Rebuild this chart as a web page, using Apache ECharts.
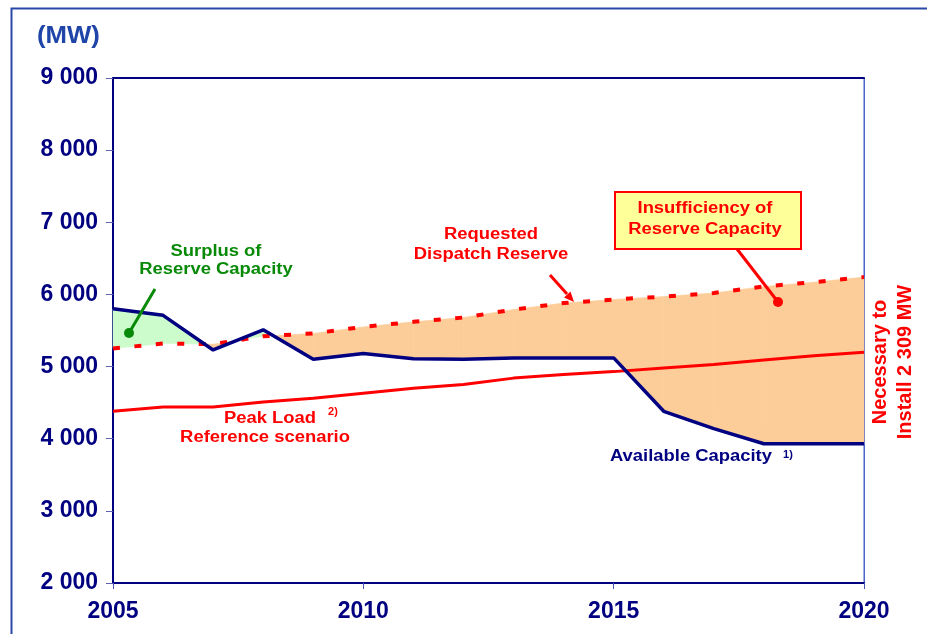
<!DOCTYPE html>
<html>
<head>
<meta charset="utf-8">
<script src="https://cdn.jsdelivr.net/npm/echarts@6/dist/echarts.min.js"></script>
<style>
  html, body { margin: 0; padding: 0; background: #fff; }
  #chart { width: 927px; height: 634px; }
</style>
</head>
<body>
<div id="chart"></div>
<script>
var years = [2005, 2006, 2007, 2008, 2009, 2010, 2011, 2012, 2013, 2014, 2015, 2016, 2017, 2018, 2019, 2020];
// Available Capacity 1)
var available = [5800, 5710, 5230, 5510, 5100, 5180, 5110, 5100, 5120, 5120, 5120, 4380, 4140, 3930, 3930, 3930];
// Peak Load 2) reference scenario
var peakLoad = [4380, 4440, 4440, 4510, 4560, 4630, 4700, 4750, 4840, 4890, 4930, 4980, 5030, 5090, 5150, 5200];
// Requested Dispatch Reserve
var reserve = [5250, 5320, 5310, 5420, 5460, 5550, 5620, 5680, 5790, 5880, 5930, 5970, 6020, 6110, 6170, 6240];
var xTicks = [2005, 2010, 2015, 2020];

var NAVY = '#000080';
var RED = '#ff0000';
var FONT = '"Liberation Sans", Arial, sans-serif';

var chart = echarts.init(document.getElementById('chart'));

function toPairs(arr) {
  return years.map(function (y, i) { return [y, arr[i]]; });
}

// fill between available and requested reserve, green where surplus, orange where short
function renderGap(params, api) {
  var i = params.dataIndex;
  var a0 = api.coord([years[i], available[i]]);
  var a1 = api.coord([years[i + 1], available[i + 1]]);
  var r0 = api.coord([years[i], reserve[i]]);
  var r1 = api.coord([years[i + 1], reserve[i + 1]]);
  var s0 = reserve[i] - available[i];
  var s1 = reserve[i + 1] - available[i + 1];
  var col = function (s) { return s > 0 ? '#fccc99' : '#ccfccc'; };
  var poly = function (pts, c) {
    return { type: 'polygon', shape: { points: pts }, style: { fill: c, stroke: c, lineWidth: 0.6 } };
  };
  var children = [];
  if (s0 * s1 >= 0) {
    children.push(poly([a0, a1, r1, r0], col(s0 !== 0 ? s0 : s1)));
  } else {
    var t = s0 / (s0 - s1);
    var c = [a0[0] + (a1[0] - a0[0]) * t, a0[1] + (a1[1] - a0[1]) * t];
    children.push(poly([a0, c, r0], col(s0)));
    children.push(poly([c, a1, r1], col(s1)));
  }
  return { type: 'group', children: children };
}

function txt(x, y, text, color, size, extra) {
  var o = {
    type: 'text', x: x, y: y, scaleX: 1.15, z: 20,
    style: {
      text: text, fill: color, font: 'bold ' + size + 'px ' + FONT,
      textAlign: 'center', textVerticalAlign: 'middle'
    }
  };
  if (extra) Object.assign(o.style, extra);
  return o;
}

chart.setOption({
  animation: false,
  backgroundColor: '#fff',
  grid: {
    left: 113, top: 78, right: 63, bottom: 51,
    show: true, borderColor: '#4a66c8', borderWidth: 1
  },
  xAxis: [
    {
      type: 'value', min: 2005, max: 2020, interval: 5,
      axisLine: { lineStyle: { color: NAVY, width: 2 } },
      axisTick: { show: true, length: 6, inside: false, lineStyle: { color: '#4a56b0', width: 1 } },
      axisLabel: {
        color: NAVY, fontWeight: 'bold', fontSize: 23, fontFamily: FONT, margin: 17,
        formatter: function (v) { return xTicks.indexOf(v) >= 0 ? String(v) : ''; }
      },
      splitLine: { show: false }
    },
    {
      type: 'value', position: 'top', min: 2005, max: 2020,
      axisLine: { lineStyle: { color: NAVY, width: 2 } },
      axisTick: { show: false }, axisLabel: { show: false }, splitLine: { show: false }
    }
  ],
  yAxis: [
    {
      type: 'value', min: 2000, max: 9000, interval: 1000,
      axisLine: { show: true, lineStyle: { color: NAVY, width: 2 } },
      axisTick: { show: true, length: 7, lineStyle: { color: '#5a62b0', width: 1 } },
      axisLabel: {
        color: NAVY, fontWeight: 'bold', fontSize: 23, fontFamily: FONT, margin: 15,
        formatter: function (v) { return String(v).replace(/\B(?=(\d{3})+(?!\d))/g, ' '); }
      },
      splitLine: { show: false }
    },
    {
      type: 'value', position: 'right', min: 2000, max: 9000,
      axisLine: { show: true, lineStyle: { color: '#4a66c8', width: 1 } },
      axisTick: { show: false }, axisLabel: { show: false }, splitLine: { show: false }
    }
  ],
  series: [
    {
      name: 'gap', type: 'custom', z: 1, silent: true,
      renderItem: renderGap,
      data: years.slice(0, -1).map(function (y, i) { return [y, reserve[i]]; })
    },
    {
      name: 'Peak Load', type: 'line', z: 3, symbol: 'none',
      data: toPairs(peakLoad),
      lineStyle: { color: RED, width: 3 }
    },
    {
      name: 'Requested Dispatch Reserve', type: 'line', z: 4, symbol: 'none',
      data: toPairs(reserve),
      lineStyle: { color: RED, width: 4, type: [7, 14.5], cap: 'butt' }
    },
    {
      name: 'Available Capacity', type: 'line', z: 5, symbol: 'none',
      data: toPairs(available),
      lineStyle: { color: NAVY, width: 3.5 }
    }
  ],
  graphic: [
    // outer frame
    { type: 'rect', z: 0, shape: { x: 11.5, y: 8.5, width: 1000, height: 700 },
      style: { fill: 'none', stroke: '#2a48a8', lineWidth: 2 } },
    { type: 'text', x: 37, y: 37, scaleX: 1.12, z: 20,
      style: { text: '(MW)', fill: '#1f45a8', font: 'bold 23px ' + FONT, textVerticalAlign: 'middle' } },

    // surplus annotation
    txt(216, 261, 'Surplus of\nReserve Capacity', '#088a08', 16, { lineHeight: 18 }),
    { type: 'line', z: 20, shape: { x1: 155, y1: 289, x2: 129, y2: 333 },
      style: { stroke: '#088a08', lineWidth: 3 } },
    { type: 'circle', z: 20, shape: { cx: 129, cy: 333, r: 5 }, style: { fill: '#088a08' } },

    // requested reserve annotation
    txt(491, 245, 'Requested\nDispatch Reserve', RED, 16, { lineHeight: 20 }),
    { type: 'line', z: 20, shape: { x1: 550, y1: 275, x2: 567, y2: 294 },
      style: { stroke: RED, lineWidth: 3 } },
    { type: 'polygon', z: 20, shape: { points: [[574, 302], [564, 297.5], [570.5, 291.5]] },
      style: { fill: RED } },

    // peak load
    txt(270, 419, 'Peak Load', RED, 16),
    { type: 'text', x: 333, y: 412, z: 20,
      style: { text: '2)', fill: RED, font: 'bold 11px ' + FONT, textAlign: 'center', textVerticalAlign: 'middle' } },
    txt(265, 438, 'Reference scenario', RED, 16),

    // available capacity
    { type: 'text', x: 610, y: 457, scaleX: 1.15, z: 20,
      style: { text: 'Available Capacity', fill: NAVY, font: 'bold 16px ' + FONT, textVerticalAlign: 'middle' } },
    { type: 'text', x: 788, y: 455, z: 20,
      style: { text: '1)', fill: NAVY, font: 'bold 11px ' + FONT, textAlign: 'center', textVerticalAlign: 'middle' } },

    // insufficiency box
    { type: 'line', z: 19, shape: { x1: 737, y1: 249, x2: 778, y2: 302 },
      style: { stroke: RED, lineWidth: 3 } },
    { type: 'circle', z: 20, shape: { cx: 778, cy: 302, r: 5 }, style: { fill: RED } },
    { type: 'rect', z: 20, shape: { x: 615, y: 192, width: 186, height: 57 },
      style: { fill: '#ffff99', stroke: RED, lineWidth: 2 } },
    txt(705, 219.5, 'Insufficiency of\nReserve Capacity', RED, 16, { lineHeight: 21 }),

    // vertical note on the right
    { type: 'text', x: 893, y: 362, rotation: Math.PI / 2, z: 20,
      style: { text: 'Necessary to\nInstall 2 309 MW', fill: RED, font: 'bold 20px ' + FONT,
        textAlign: 'center', textVerticalAlign: 'middle', lineHeight: 25 } }
  ]
});

window.addEventListener('resize', function () { chart.resize(); });
</script>
</body>
</html>
